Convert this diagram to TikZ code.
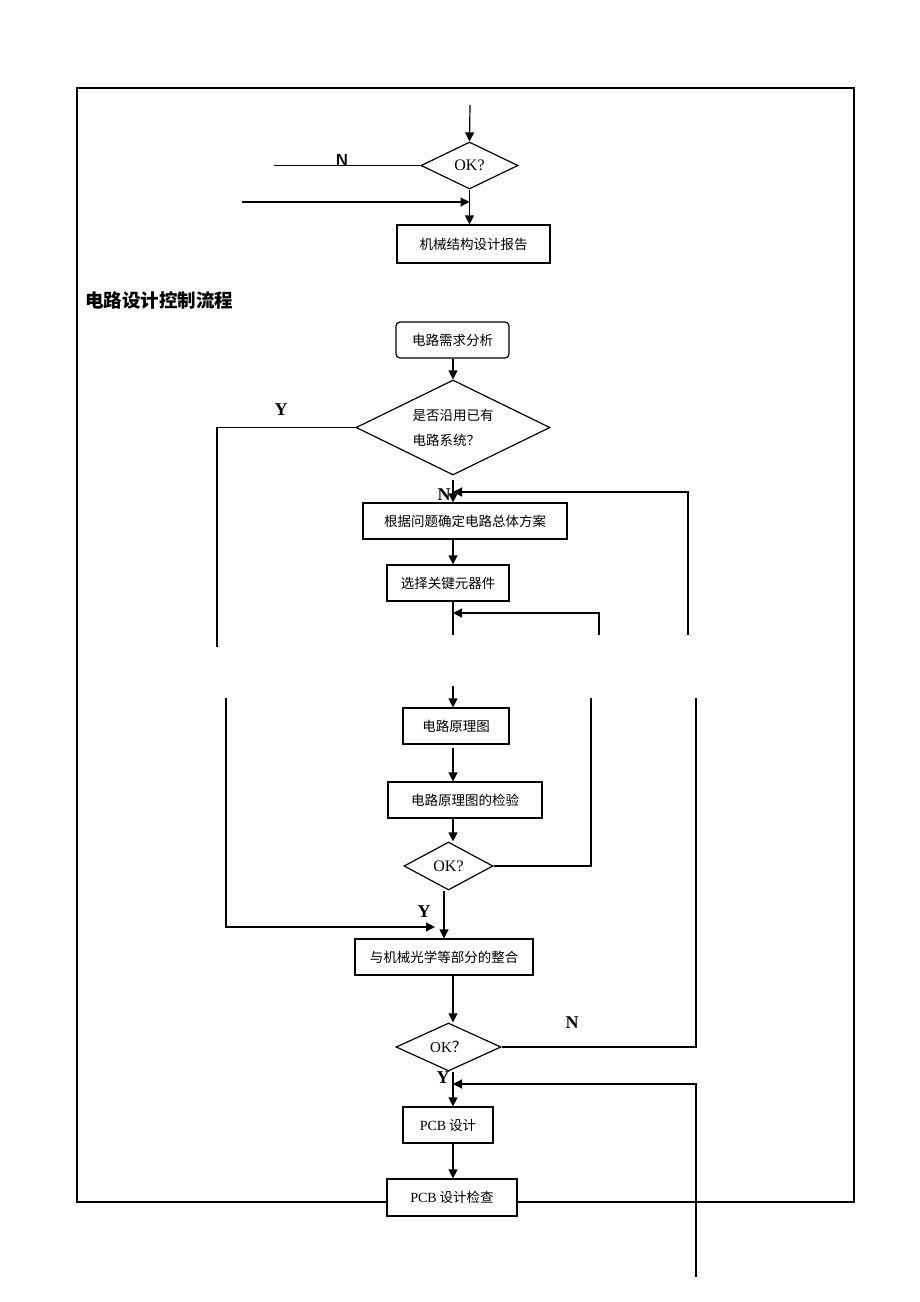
\documentclass[tikz,border=0pt]{standalone}
\usepackage{fontspec}
\setmainfont{Liberation Serif}
\newfontfamily\cjk{Noto Sans CJK SC}
\usetikzlibrary{shapes.geometric,arrows.meta}
\tikzset{
  ln/.style={line width=1.2pt},
  arr/.style={line width=1.2pt,-{Triangle[length=9pt,width=9pt]}},
  box/.style={draw,line width=1.2pt,rectangle,fill=white,inner sep=0pt,
    font=\cjk\fontsize{13.5}{16}\selectfont},
  dia/.style={draw,line width=1.2pt,diamond,fill=white,inner sep=0pt,shape aspect=2,
    font=\fontsize{16}{18}\selectfont},
  yn/.style={font=\bfseries\fontsize{18}{20}\selectfont,inner sep=0pt}
}
\begin{document}
\begin{tikzpicture}[x=1pt,y=-1pt]
\useasboundingbox (0,0) rectangle (920,1302);
% frame
\draw[line width=1.3pt] (77,88) rectangle (854,1202);

% ---------- top part ----------
\coordinate (topin) at (470,105);
\coordinate (nL) at (274,165.5);
\coordinate (inL) at (242,202);
\node[dia,minimum width=97pt,minimum height=47pt] (okA) at (469.5,165.5) {OK?};
\node[box,minimum width=153pt,minimum height=38pt] (report) at (473.5,244) {机械结构设计报告\hspace{22pt}};
\draw[arr] (topin) -- (okA.north);
\draw[ln] (okA.west) -- (nL);
\node[yn,font=\sffamily\bfseries\fontsize{16}{18}\selectfont] (nA) at (342,160) {N};
\draw[arr] (inL) -- (okA.south |- inL);
\draw[arr] (okA.south) -- (report.north -| okA.south);

% ---------- title ----------
\node[anchor=west,inner sep=0pt,font=\cjk\bfseries\fontsize{18.5}{20}\selectfont] (title) at (85,300) {电路设计控制流程};

% ---------- circuit flow ----------
\coordinate (ax) at (453,0);
\node[box,rounded corners=4pt,minimum width=113pt,minimum height=36pt] (req) at (452.5,340) {电路需求分析\hspace{20pt}};
\node[dia,minimum width=194pt,minimum height=95pt,align=left,
  font=\cjk\fontsize{13.5}{25}\selectfont] (d2) at (453,427.5) {是否沿用已有\\电路系统？};
\node[box,minimum width=204pt,minimum height=36pt] (scheme) at (465,521) {根据问题确定电路总体方案\hspace{12pt}};
\node[box,minimum width=122pt,minimum height=36pt] (sel) at (448,583) {选择关键元器件};
\node[box,minimum width=106pt,minimum height=36pt] (sch) at (456,726) {电路原理图\hspace{10pt}};
\node[box,minimum width=154pt,minimum height=36pt] (chk) at (465,800) {电路原理图的检验\hspace{18pt}};
\node[dia,minimum width=89pt,minimum height=48pt] (d3) at (448.5,866) {OK?};
\node[box,minimum width=178pt,minimum height=36pt] (integ) at (444,957) {与机械光学等部分的整合};
\node[dia,minimum width=105pt,minimum height=48pt,font=\fontsize{15}{17}\selectfont] (d4) at (448.5,1047) {OK{\cjk ？}};
\node[box,minimum width=90pt,minimum height=36pt] (pcb) at (448,1125) {{\rmfamily\fontsize{14}{16}\selectfont PCB} 设计\hspace{8pt}};
\node[box,minimum width=130pt,minimum height=37pt] (pcbc) at (452,1197.5) {{\rmfamily\fontsize{14}{16}\selectfont PCB} 设计检查\hspace{22pt}};

% coordinates of free ends
\coordinate (yl1) at (217,647);
\coordinate (r1b) at (688,635);
\coordinate (fb1) at (453,492);
\coordinate (c1) at (453,635);
\coordinate (r2b) at (599,635);
\coordinate (fb2) at (453,613);
\coordinate (c2) at (453,686);
\coordinate (r2t) at (591,698);
\coordinate (l2t) at (226,698);
\coordinate (yj) at (435,927);
\coordinate (r1t) at (696,698);
\coordinate (r3b) at (696,1277);
\coordinate (fb3) at (453,1084);
\coordinate (d2out) at (453,480);

% connectors
\draw[arr] (req.south -| ax) -- (d2.north);
\draw[arr] (d2out) -- (scheme.north -| ax);
\draw[arr] (r1b) |- (fb1);
\draw[ln] (d2.west) -| (yl1);
\draw[arr] (scheme.south -| ax) -- (sel.north -| ax);
\draw[ln] (sel.south -| ax) -- (c1);
\draw[arr] (r2b) |- (fb2);
\draw[arr] (c2) -- (sch.north -| ax);
\draw[arr] ([yshift=-3pt]sch.south -| ax) -- (chk.north -| ax);
\draw[arr] (chk.south -| ax) -- (d3.north -| ax);
\draw[ln] (d3.east) -| (r2t);
\draw[arr] (d3.south -| integ.north) -- (integ.north);
\draw[arr] (l2t) |- (yj);
\draw[arr] (integ.south -| ax) -- (d4.north -| ax);
\draw[ln] (d4.east) -| (r1t);
\draw[arr] (d4.south -| ax) -- (pcb.north -| ax);
\draw[arr] (r3b) |- (fb3);
\draw[arr] (pcb.south -| ax) -- (pcbc.north -| ax);

% labels
\node[yn] (y1) at (281,410) {Y};
\node[yn] (n1) at (444,495) {N};
\node[yn] (y2) at (424,912) {Y};
\node[yn] (n2) at (572,1023) {N};
\node[yn] (y3) at (443,1078) {Y};
\end{tikzpicture}
\end{document}
